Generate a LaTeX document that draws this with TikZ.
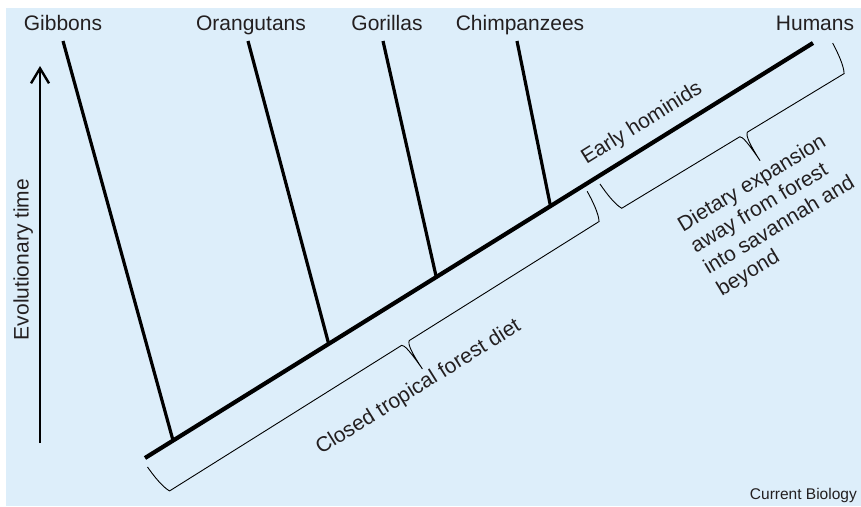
\documentclass[tikz,border=0pt]{standalone}
\usepackage{fontspec}
\setmainfont{Liberation Sans}
\usetikzlibrary{calc,arrows.meta}
\definecolor{panelblue}{RGB}{221,238,250}
\definecolor{inkgrey}{RGB}{35,31,32}

% curly brace along a line: start, angle, length, tip position
\newcommand{\dietbrace}[4]{%
  \begin{scope}[shift={#1}, rotate=#2]
    \draw[brace] (0,0) .. controls (0.5,10) and (2,25) .. (6,32)
      -- (#4-5,32) .. controls (#4-2.5,33) and (#4-1,42) .. (#4,63)
      .. controls (#4-0.5,44) and (#4+0.5,34) .. (#4+4,32)
      -- (#3-6,32) .. controls (#3-2,25) and (#3-0.5,10) .. (#3,0);
  \end{scope}}

\begin{document}
\begin{tikzpicture}[x=1pt, y=-1pt,
        taxon/.style={font=\fontsize{21}{25}\selectfont, text=inkgrey, inner sep=0pt, anchor=base},
        note/.style={font=\fontsize{21}{25}\selectfont, text=inkgrey, inner sep=0pt},
        branch/.style={line width=3.2pt},
        trunk/.style={line width=4.2pt},
        brace/.style={line width=0.9pt},
        timearrow/.style={line width=2.4pt, -{Straight Barb[length=15pt, width=18pt]}}
    ]
        \useasboundingbox (0,0) rectangle (861,506);
        \fill[panelblue] (6,8) rectangle (861,506);

        % labels at the top
        \node[taxon] (gib) at (63,30) {Gibbons};
        \node[taxon] (ora) at (251,30) {Orangutans};
        \node[taxon] (gor) at (387,30) {Gorillas};
        \node[taxon] (chi) at (520,30) {Chimpanzees};
        \node[taxon] (hum) at (815,30) {Humans};

        % tree
        \coordinate (root) at (145,458);
        \coordinate (humtop) at (813,43);
        \coordinate (gibtop) at (63,41);
        \coordinate (oratop) at (248,41);
        \coordinate (gortop) at (383,41);
        \coordinate (chitop) at (517,41);
        \coordinate (gibjoin) at ($(root)!0.042!(humtop)$);
        \coordinate (orajoin) at ($(root)!0.275!(humtop)$);
        \coordinate (gorjoin) at ($(root)!0.436!(humtop)$);
        \coordinate (chijoin) at ($(root)!0.607!(humtop)$);

        \draw[trunk] (root)--(humtop);
        \draw[branch] (gibjoin)--(gibtop);
        \draw[branch] (orajoin)--(oratop);
        \draw[branch] (gorjoin)--(gortop);
        \draw[branch] (chijoin)--(chitop);

        % time axis
        \coordinate (tstart) at (40,443);
        \coordinate (tend) at (40,66);
        \draw[timearrow] (tstart)--(tend);
        \node[note, rotate=90, anchor=base] (evo) at (28.5,259.5) {Evolutionary time};

        % diets
        \dietbrace{(147.5,467)}{32.1}{519}{285}
        \dietbrace{(600,184)}{31.2}{272}{149}
        \node[note, rotate=32, anchor=base] (early) at (645,128.5) {Early hominids};
        \node[note, rotate=32, anchor=base] (forestdiet) at (421.5,392) {Closed tropical forest diet};
        \node[note, rotate=31, anchor=north west, align=left] (dietexp) at (675,219)
            {Dietary expansion\\away from forest\\into savannah and\\beyond};

        \node[note, font=\fontsize{15.5}{18}\selectfont, anchor=base east] (credit) at (857,499) {Current Biology};
    \end{tikzpicture}
\end{document}
